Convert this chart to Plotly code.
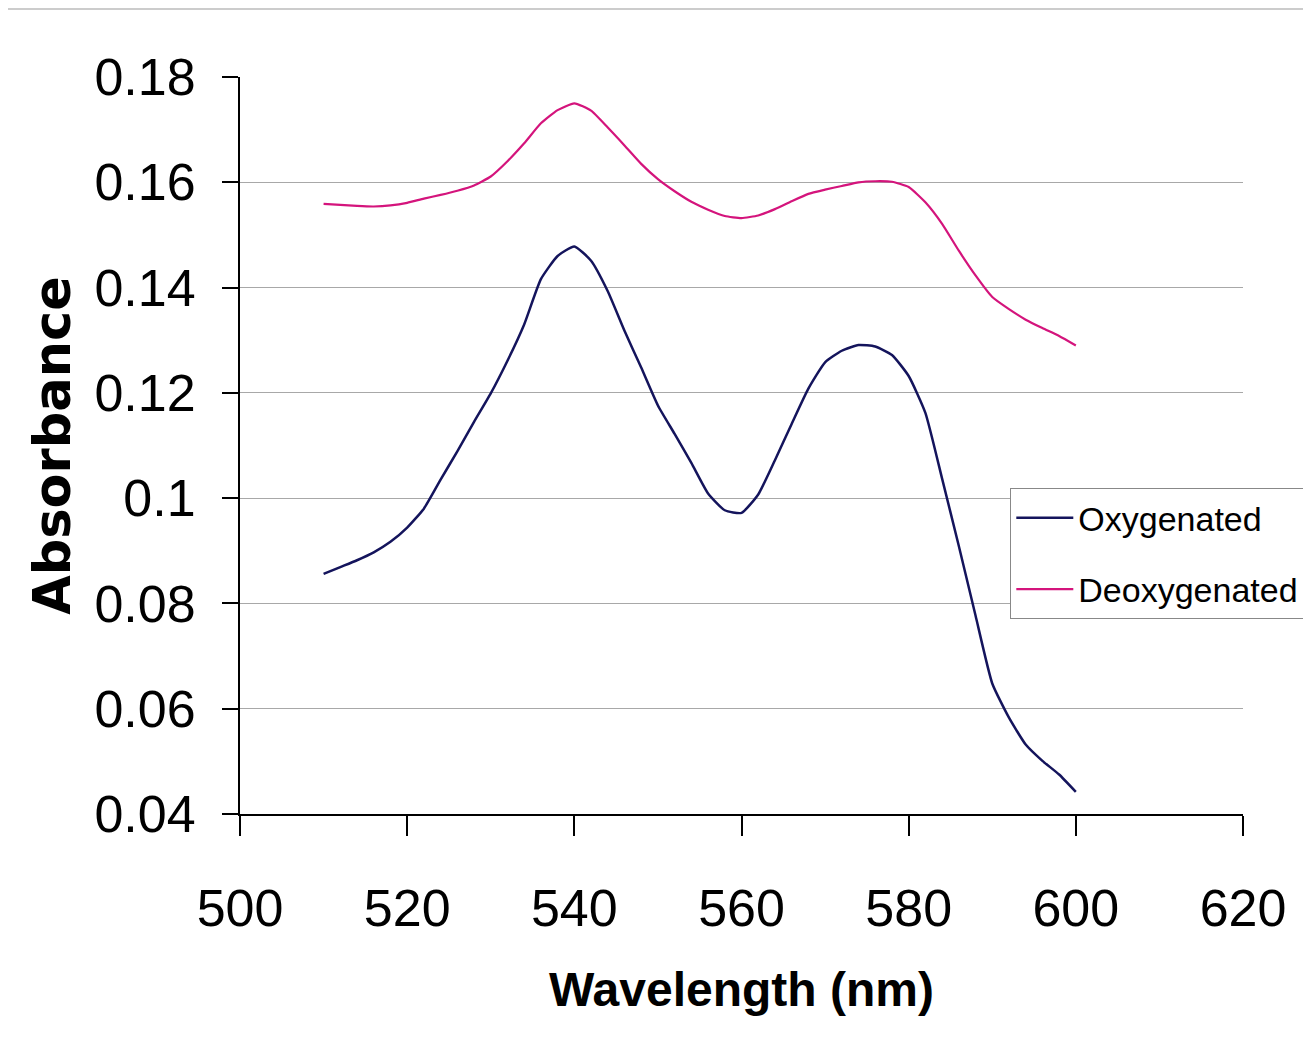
import plotly.graph_objects as go

wavelength = list(range(510, 601, 2))

oxygenated = [0.0856, 0.0869, 0.0882, 0.0897, 0.0917, 0.0944, 0.0980, 0.1035, 0.1089, 0.1145,
              0.1199, 0.1261, 0.1330, 0.1416, 0.1460, 0.1478, 0.1451, 0.1393, 0.1318, 0.1248,
              0.1176, 0.1122, 0.1067, 0.1009, 0.0977, 0.0972, 0.1007, 0.1072, 0.1141, 0.1208,
              0.1258, 0.1280, 0.1291, 0.1288, 0.1272, 0.1232, 0.1162, 0.1037, 0.0909, 0.0777,
              0.0648, 0.0583, 0.0532, 0.0501, 0.0475, 0.0442]

deoxygenated = [0.1559, 0.1557, 0.1555, 0.1554, 0.1556, 0.1561, 0.1569, 0.1576, 0.1584, 0.1594,
                0.1611, 0.1640, 0.1674, 0.1712, 0.1737, 0.1750, 0.1736, 0.1704, 0.1670, 0.1635,
                0.1606, 0.1583, 0.1563, 0.1548, 0.1536, 0.1532, 0.1537, 0.1549, 0.1564, 0.1578,
                0.1586, 0.1593, 0.1600, 0.1602, 0.1601, 0.1591, 0.1562, 0.1521, 0.1470, 0.1423,
                0.1382, 0.1359, 0.1339, 0.1323, 0.1308, 0.1290]

x_tick_vals = [500, 520, 540, 560, 580, 600, 620]
x_tick_labels = ["500", "520", "540", "560", "580", "600", "620"]
y_tick_vals = [0.04, 0.06, 0.08, 0.10, 0.12, 0.14, 0.16, 0.18]
y_tick_labels = ["0.04", "0.06", "0.08", "0.1", "0.12", "0.14", "0.16", "0.18"]

FONT = "Liberation Sans, Arial, sans-serif"

fig = go.Figure()
fig.add_trace(go.Scatter(x=wavelength, y=oxygenated, mode="lines", name="Oxygenated",
                         legendgroup="a",
                         line=dict(color="#14145c", width=2.5, shape="spline", smoothing=0.5)))
fig.add_trace(go.Scatter(x=wavelength, y=deoxygenated, mode="lines", name="Deoxygenated",
                         legendgroup="b",
                         line=dict(color="#d4147c", width=2.2, shape="spline", smoothing=0.5)))

fig.update_layout(
    width=1311, height=1038,
    margin=dict(l=232, r=76, t=69, b=232),
    paper_bgcolor="white", plot_bgcolor="white",
    font=dict(family=FONT, color="black"),
    showlegend=True,
    legend=dict(x=0.768, y=0.442, xanchor="left", yanchor="top",
                bgcolor="white", bordercolor="#888888", borderwidth=1,
                font=dict(size=34, family=FONT), tracegroupgap=24,
                itemwidth=57),
    xaxis=dict(range=[500, 620], tickvals=x_tick_vals, ticktext=x_tick_labels,
               showgrid=False, showline=True, linecolor="black", linewidth=2,
               ticks="outside", ticklen=20, tickwidth=2, tickcolor="black",
               tickfont=dict(size=52), ticklabelstandoff=28, zeroline=False,
               title=dict(text="<b>Wavelength (nm)</b>", font=dict(size=48), standoff=36)),
    yaxis=dict(range=[0.04, 0.18], tickvals=y_tick_vals, ticktext=y_tick_labels,
               showgrid=True, gridcolor="#a8a8a8", gridwidth=1,
               showline=True, linecolor="black", linewidth=2,
               ticks="outside", ticklen=16, tickwidth=2, tickcolor="black",
               tickfont=dict(size=52), ticklabelstandoff=16, zeroline=False,
               title=dict(text="<b>Absorbance</b>",
                          font=dict(size=51, family="DejaVu Sans, sans-serif"), standoff=8)),
)

fig.add_shape(type="line", xref="paper", yref="paper",
              x0=-240/1003, x1=1100/1003, y0=805/737, y1=805/737,
              line=dict(color="#999999", width=1))

fig.write_html("out.html")
